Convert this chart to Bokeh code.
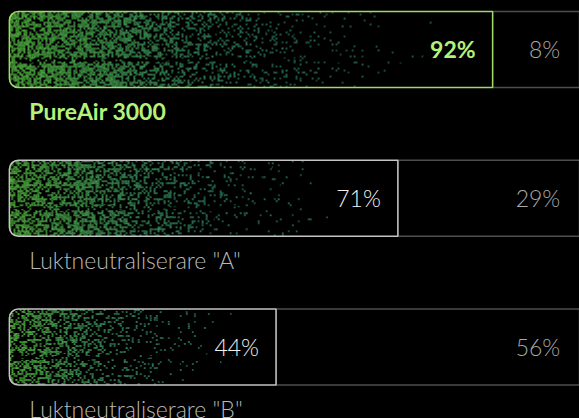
import numpy as np
from bokeh.plotting import figure
from bokeh.models import Range1d, ColumnDataSource, GlobalInlineStyleSheet
from bokeh.core.properties import value
from bokeh.embed import file_html
from bokeh.resources import INLINE

# ---- data ----
products = ["PureAir 3000", 'Luktneutraliserare "A"', 'Luktneutraliserare "B"']
shares = [92, 71, 44]
rest_shares = [8, 29, 56]
share_labels = ["92%", "71%", "44%"]
rest_labels = ["8%", "29%", "56%"]

# ---- style ----
BG = "#000000"
GREEN_TXT = "#b4f27a"
GREEN_LINE = "#9fd86c"
GREY_LINE = "#c4c4c4"
REST_LINE = "#4e4e4e"
LEFT = -15.1          # padding start of the bar track
TRACK_END = 118
BAR_H = 0.511
W, H = 579, 418
X0, X1 = -17.066, 111.26
PX_PER_UNIT = W / (X1 - X0)
rows = list(range(len(products)))


def grain(h, w, seed, block=2):
    # deterministic integer-hash texture (decoration only)
    yy, xx = np.mgrid[0:h, 0:w]
    bx = (xx // block).astype(np.uint64)
    by = (yy // block).astype(np.uint64)
    m = np.uint64(0xFFFFFFFF)
    hsh = (bx * np.uint64(374761393) + by * np.uint64(668265263) + np.uint64(seed) * np.uint64(2246822519)) & m
    hsh = ((hsh ^ (hsh >> np.uint64(13))) * np.uint64(1274126177)) & m
    hsh = hsh ^ (hsh >> np.uint64(16))
    return hsh.astype(np.float64) / 4294967296.0


p = figure(width=W, height=H, output_backend="svg", toolbar_location=None,
           x_range=Range1d(X0, X1), y_range=Range1d(2.4807, -0.3294),
           x_axis_type=None, y_axis_type=None, min_border=0)
p.background_fill_color = BG
p.border_fill_color = BG
p.outline_line_color = None
p.grid.visible = False
p.stylesheets = [GlobalInlineStyleSheet(css="html,body{background:#000;overflow:hidden;margin:0;padding:0;}")]

# track for remaining share
p.hbar(y=rows, left=shares, right=TRACK_END, height=BAR_H, fill_color=None,
       line_color=REST_LINE, line_width=1.5)

# grainy gradient fill images
peaks = [0.7, 0.64, 0.52]
for i, (v, pk) in enumerate(zip(shares, peaks)):
    wpx = int(round((v - LEFT) * PX_PER_UNIT))
    hpx = 76
    t = (np.arange(wpx) + 0.5) / wpx
    dens = np.clip((0.92 - t) / 0.72, 0, 1) ** 2.3
    dens = np.where(t < 0.2, 1.0, dens) * pk
    c0 = np.array([74, 160, 56.0])
    c1 = np.array([50, 140, 115.0])
    mix = np.clip(t / 0.55, 0, 1)[:, None]
    col = (c0 * (1 - mix) + c1 * mix) * (1 - 0.35 * np.clip(t / 0.7, 0, 1))[:, None]
    yy = (np.arange(hpx) + 0.5) / hpx
    band = 1 - 0.75 * np.exp(-((yy - 0.64) / 0.03) ** 2)
    n1 = grain(hpx, wpx, i + 1)
    n2 = grain(hpx, wpx, i + 11, block=1)
    lit = (n1 < dens[None, :] * band[:, None]).astype(float)
    bright = (0.55 + 0.6 * n2) * lit
    # rounded left corners
    r = 8.0
    xx = np.arange(wpx)[None, :] + 0.5
    ypix = np.arange(hpx)[:, None] + 0.5
    cy = np.where(ypix < r, r, np.where(ypix > hpx - r, hpx - r, ypix))
    dist = np.sqrt(np.clip(r - xx, 0, None) ** 2 * (xx < r) + (ypix - cy) ** 2 * (xx < r))
    bright = bright * (dist <= r)
    img = np.zeros((hpx, wpx), dtype=np.uint32)
    view = img.view(dtype=np.uint8).reshape((hpx, wpx, 4))
    for k in range(3):
        view[:, :, k] = np.clip(col[:, k][None, :] * bright, 0, 255).astype(np.uint8)
    view[:, :, 3] = 255
    p.image_rgba(image=[img], x=LEFT, y=i - BAR_H / 2, dw=v - LEFT, dh=BAR_H)

# outline of the share bars
line_cols = [GREEN_LINE, GREY_LINE, GREY_LINE]
src = ColumnDataSource(dict(y=rows, left=[LEFT] * 3, right=shares, lc=line_cols))
p.hbar(y="y", left="left", right="right", height=BAR_H, source=src,
       fill_color=None, line_color="lc", line_width=1.5, border_radius=(9, 0, 0, 9))

# share labels
txt_cols = [GREEN_TXT, "#f2f2f2", "#f2f2f2"]
fonts = ["Lato", "Lato Light", "Lato Light"]
styles = ["bold", "normal", "normal"]
for i in rows:
    p.text(x=[shares[i]], y=[i], text=[share_labels[i]], x_offset=-17, y_offset=0,
           text_align="right", text_baseline="alphabetic", text_color=txt_cols[i],
           text_font=value(fonts[i]), text_font_style=styles[i], text_font_size="23px")
    p.text(x=[107], y=[i], text=[rest_labels[i]], y_offset=0,
           text_align="right", text_baseline="alphabetic", text_color="#a8a8a8",
           text_font=value("Lato Light"), text_font_size="23px")
    name_col = GREEN_TXT if i == 0 else "#b8b8b8"
    p.text(x=[LEFT], y=[i], text=[products[i]], x_offset=20, y_offset=62,
           text_align="left", text_baseline="alphabetic", text_color=name_col,
           text_font=value(fonts[i]), text_font_style=styles[i], text_font_size="23px")

open("out.html", "w").write(file_html(p, INLINE))
